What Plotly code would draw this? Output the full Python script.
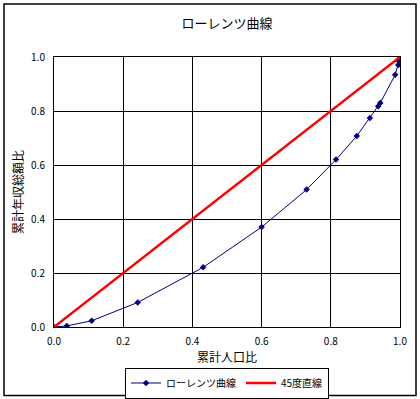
import plotly.graph_objects as go

lorenz_x = [0.0, 0.037, 0.109, 0.242, 0.431, 0.600, 0.730, 0.815, 0.875, 0.913, 0.937, 0.943, 0.986, 0.995, 0.997, 1.0]
lorenz_y = [0.0, 0.004, 0.023, 0.091, 0.221, 0.370, 0.509, 0.620, 0.707, 0.774, 0.818, 0.830, 0.934, 0.970, 0.984, 1.0]
diag_x = [0.0, 1.0]
diag_y = [0.0, 1.0]
tick_vals = [0.0, 0.2, 0.4, 0.6, 0.8, 1.0]
tick_text = ["0.0", "0.2", "0.4", "0.6", "0.8", "1.0"]

FONT = "Noto Sans CJK JP, Noto Sans, sans-serif"

fig = go.Figure()
fig.add_trace(go.Scatter(
    x=lorenz_x, y=lorenz_y, mode="lines+markers", name="ローレンツ曲線",
    line=dict(color="#000080", width=1),
    marker=dict(symbol="diamond", size=5, color="#000080"),
))
fig.add_trace(go.Scatter(
    x=diag_x, y=diag_y, mode="lines", name="45度直線",
    line=dict(color="#ff0000", width=2.5),
))

L, R, T, B = 54, 20, 57, 72
W, H = 420, 399
pw, ph = W - L - R, H - T - B

def px_to_paper_x(px):
    return (px - L) / pw

def px_to_paper_y(py):
    return (H - B - py) / ph

fig.add_shape(type="rect", xref="paper", yref="paper",
              x0=px_to_paper_x(4), x1=px_to_paper_x(416),
              y0=px_to_paper_y(395.5), y1=px_to_paper_y(4),
              line=dict(color="black", width=1.5), layer="below")

axis_common = dict(
    range=[0, 1], tickvals=tick_vals, ticktext=tick_text,
    showgrid=True, gridcolor="black", gridwidth=1,
    showline=True, linecolor="black", linewidth=1, mirror=True,
    zeroline=False, ticks="", tickfont=dict(family=FONT, size=10, color="black"),
    automargin=False,
)

fig.update_layout(
    width=W, height=H,
    margin=dict(l=L, r=R, t=T, b=B, autoexpand=False),
    paper_bgcolor="white", plot_bgcolor="white",
    font=dict(family=FONT, color="black"),
    title=dict(text="ローレンツ曲線", x=0.5, xref="paper", xanchor="center",
               y=1 - 23 / H, yanchor="middle", font=dict(family=FONT, size=13, color="black")),
    xaxis=dict(**axis_common, ticklabelstandoff=5,
               title=dict(text="累計人口比", font=dict(family=FONT, size=12, color="black"), standoff=4)),
    yaxis=dict(**axis_common, ticklabelstandoff=6,
               title=dict(text="累計年収総額比", font=dict(family=FONT, size=12, color="#000000"), standoff=4)),
    showlegend=True,
    legend=dict(orientation="h", x=0.5, xanchor="center",
                yref="container", y=1 - 383 / H, yanchor="middle",
                bordercolor="black", borderwidth=1, bgcolor="white",
                font=dict(family=FONT, size=10, color="black"),
                itemwidth=30, tracegroupgap=0, valign="middle"),
)

fig.write_html("out.html")
